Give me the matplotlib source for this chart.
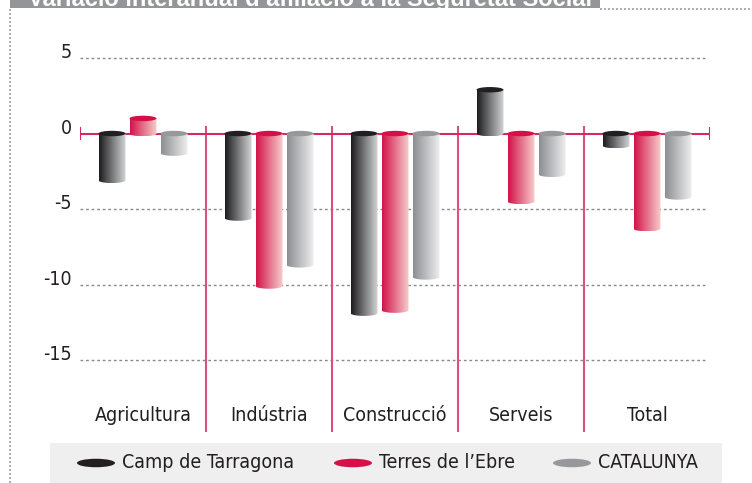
import matplotlib.pyplot as plt
import numpy as np
from matplotlib import font_manager as fm
from matplotlib.colors import LinearSegmentedColormap
from matplotlib.patches import Ellipse, Rectangle, PathPatch
from matplotlib.path import Path

# busquem una lletra estreta (condensed) si n'hi ha cap
preferred = ['Liberation Sans Narrow', 'DejaVu Sans', 'Noto Sans', 'Roboto', 'Open Sans', 'Lato', 'Inter']
cond = [f.name for f in fm.fontManager.ttflist
        if f.stretch == 'condensed' and f.style == 'normal' and f.weight in (400, 'normal', 'regular')]
narrow_font = next((n for n in preferred if n in cond), None)
if narrow_font:
    plt.rcParams['font.family'] = [narrow_font, 'DejaVu Sans']
    plt.rcParams['font.stretch'] = 'condensed'
    fs = 14
else:
    plt.rcParams['font.family'] = ['DejaVu Sans']
    fs = 12.5

# Dades
categories = ['Agricultura', 'Indústria', 'Construcció', 'Serveis', 'Total']
series = ['Camp de Tarragona', 'Terres de l’Ebre', 'CATALUNYA']
camp = [-3.1, -5.6, -11.9, 2.9, -0.8]
ebre = [1.0, -10.1, -11.7, -4.5, -6.3]
catalunya = [-1.3, -8.7, -9.5, -2.7, -4.2]
yticks = [5, 0, -5, -10, -15]
title = 'Variació interanual d’afiliació a la Seguretat Social'

# colors: esquerra del degradat, dreta del degradat, tapa
colors = [('#1c1c1e', '#d4d5d7', '#231f20'),
          ('#d3124a', '#f7cfcc', '#d70f48'),
          ('#8d8e92', '#efeff0', '#97989b')]
text_color = '#231f20'
line_red = '#d42a5c'

fig = plt.figure(figsize=(7.52, 4.83), dpi=100)

# capa de fons en pixels
ov = fig.add_axes([0, 0, 1, 1])
ov.set_xlim(0, 752)
ov.set_ylim(483, 0)
ov.axis('off')

ov.add_patch(Rectangle((10, 0), 590, 8, color='#939598', lw=0))
ov.text(28, 6, title, color='white', fontweight='bold', fontsize=17,
        family=['Liberation Sans', 'DejaVu Sans'], fontstretch='normal', va='baseline')
dots = dict(color='#a0a0a0', lw=1.2, linestyle=(0, (1.2, 1.2)))
ov.plot([10, 10], [9, 483], **dots)
ov.plot([600, 752], [8.5, 8.5], **dots)

# llegenda
ov.add_patch(Rectangle((50, 443), 672, 40, color='#efefef', lw=0))
leg_x = [77, 334, 553]
for lx, name, c in zip(leg_x, series, colors):
    ov.add_patch(Ellipse((lx + 19, 463), 38, 8.5, color=c[2], lw=0))
    ov.text(lx + 45, 463, name, va='center', ha='left', fontsize=fs, color=text_color)

# grafic
ax = fig.add_axes([80 / 752, 51 / 483, 630 / 752, 412 / 483])
ax.patch.set_visible(False)
ymin, ymax = -19.77, 7.52
x = np.arange(len(categories))
w = 0.214
offsets = [-0.246, 0, 0.246]
eh = 0.36  # alcada de l'el·lipse en unitats

ax.hlines([5, -5, -10, -15], -0.5, 4.48, colors='#8a8a8a', lw=1, linestyles=(0, (2, 2)), zorder=0)
ax.vlines([0.5, 1.5, 2.5, 3.5], ymin, 0.5, colors='#dc5080', lw=1.5, zorder=1)
ax.hlines(0, -0.5, 4.5, colors=line_red, lw=1.5, zorder=1)
ax.vlines([-0.5, 4.5], -0.4, 0.4, colors=line_red, lw=1.5, zorder=1)

for vals, off, c in zip([camp, ebre, catalunya], offsets, colors):
    cmap = LinearSegmentedColormap.from_list('g', [c[0], c[1]])
    bars = ax.bar(x + off, vals, w, color='none', edgecolor='none')
    for r in bars:
        x0, bw = r.get_x(), r.get_width()
        lo = min(r.get_y(), r.get_y() + r.get_height())
        hi = max(r.get_y(), r.get_y() + r.get_height())
        cx = x0 + bw / 2
        t = np.linspace(np.pi, 2 * np.pi, 40)
        verts = [(x0, hi)] + list(zip(cx + bw / 2 * np.cos(t), lo + eh / 2 * np.sin(t))) + [(x0 + bw, hi), (x0, hi)]
        clip = PathPatch(Path(verts, closed=True), transform=ax.transData, fc='none', ec='none')
        ax.add_patch(clip)
        im = ax.imshow(np.linspace(0, 1, 256).reshape(1, -1), cmap=cmap, aspect='auto',
                       extent=[x0, x0 + bw, lo - eh / 2, hi], zorder=2, interpolation='bilinear')
        im.set_clip_path(clip)
        ax.add_patch(Ellipse((cx, hi), bw, eh, color=c[2], lw=0, zorder=3))

for i, cat in enumerate(categories):
    ax.text(i, -18.7, cat, ha='center', va='center', fontsize=fs, color=text_color)

ax.set_xlim(-0.5, 4.5)
ax.set_ylim(ymin, ymax)
ax.set_yticks(yticks)
ax.set_yticklabels([str(v) for v in yticks])
for lab in ax.get_yticklabels():
    lab.set_va('baseline')
ax.tick_params(axis='y', length=0, pad=6, labelsize=fs, labelcolor=text_color)
ax.set_xticks([])
for s in ax.spines.values():
    s.set_visible(False)

plt.savefig('out.png', dpi=100)
